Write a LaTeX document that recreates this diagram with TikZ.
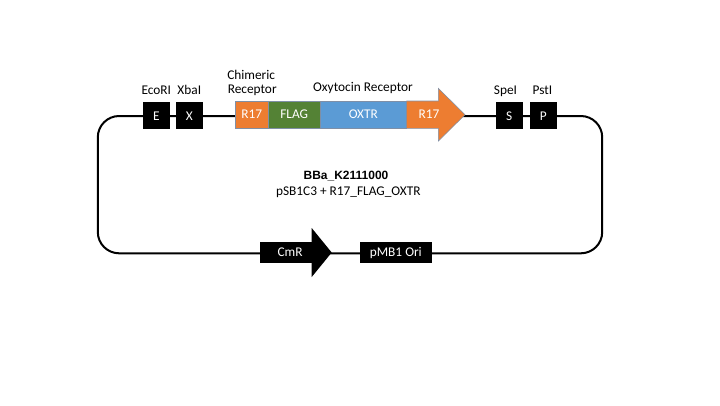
\documentclass[tikz,border=0pt]{standalone}
\usepackage{fontspec}
\setmainfont{Carlito}
\newfontfamily\arialbold{Liberation Sans}
\definecolor{orng}{HTML}{ED7D31}
\definecolor{grn}{HTML}{548235}
\definecolor{blu}{HTML}{5B9BD5}
\definecolor{edge}{HTML}{7F8FA6}
\tikzset{
  site/.style={fill=black, text=white, minimum width=26.5*0.75pt, minimum height=27*0.75pt, inner sep=0pt, font=\fontsize{10}{12}\selectfont},
  part/.style={draw=edge, line width=0.4pt, text=white, minimum height=27.3*0.75pt, inner sep=0pt, font=\fontsize{10}{12}\selectfont},
  lbl/.style={font=\fontsize{10}{12}\selectfont, inner sep=0pt},
  intext/.style={text=white, font=\fontsize{10}{12}\selectfont, inner sep=0pt},
  backbone/.style={line width=1.5pt, rounded corners=16pt},
}
\begin{document}
\begin{tikzpicture}[x=0.75pt, y=-0.75pt]
\useasboundingbox (0,0) rectangle (720,405);
% backbone
\coordinate (tl) at (97.8,116);
\coordinate (tr) at (602.2,116);
\coordinate (br) at (602.2,253.3);
\coordinate (bl) at (97.8,253.3);
\draw[backbone] (tl) -- (tr) -- (br) -- (bl) -- cycle;
% restriction sites
\node[site] (E) at (156.3,115.8) {E};
\node[site] (X) at (189.3,115.8) {X};
\node[site] (S) at (509.3,115.8) {S};
\node[site] (P) at (543.3,115.8) {P};
\node[lbl, anchor=base] (Elbl) at (156.3,94) {EcoRI};
\node[lbl, anchor=base] (Xlbl) at (189.3,94) {XbaI};
\node[lbl, anchor=base] (Slbl) at (505.5,94) {SpeI};
\node[lbl, anchor=base] (Plbl) at (542.5,94) {PstI};
% insert parts
\node[part, fill=orng, minimum width=33.3*0.75pt] (R17a) at (251.7,114.7) {R17};
\node[part, fill=grn, minimum width=51.7*0.75pt] (FLAG) at (294.2,114.7) {FLAG};
\node[part, fill=blu, minimum width=86.7*0.75pt] (OXTR) at (363.3,114.7) {OXTR};
\draw[draw=edge, line width=0.4pt, fill=orng]
  (406.7,101) -- (438.3,101) -- (438.3,88.3) -- (465,114.7) -- (438.3,141.1)
  -- (438.3,128.4) -- (406.7,128.4) -- cycle;
\node[intext] (R17b) at (429,114.7) {R17};
\node[lbl, anchor=base west] (chim) at (227,79) {Chimeric};
\node[lbl, anchor=base west] (chim2) at (227.5,93.5) {Receptor};
\node[lbl, anchor=base] (oxy) at (363,91) {Oxytocin Receptor};
% bottom elements
\fill[black] (260,242.2) -- (311.7,242.2) -- (311.7,228) -- (331.7,252.5) -- (311.7,277)
  -- (311.7,262.8) -- (260,262.8) -- cycle;
\node[intext] (CmR) at (290,252.5) {CmR};
\node[fill=black, text=white, minimum width=71.7*0.75pt, minimum height=21.6*0.75pt, inner sep=0pt, font=\fontsize{10}{12}\selectfont] (ori) at (395.8,252.5) {pMB1 Ori};
% title
\node[inner sep=0pt, font=\arialbold\bfseries\fontsize{9}{11}\selectfont] (title) at (346,175.7) {BBa\_K2111000};
\node[lbl] (sub) at (348.3,192.3) {pSB1C3 + R17\_FLAG\_OXTR};
\end{tikzpicture}
\end{document}
